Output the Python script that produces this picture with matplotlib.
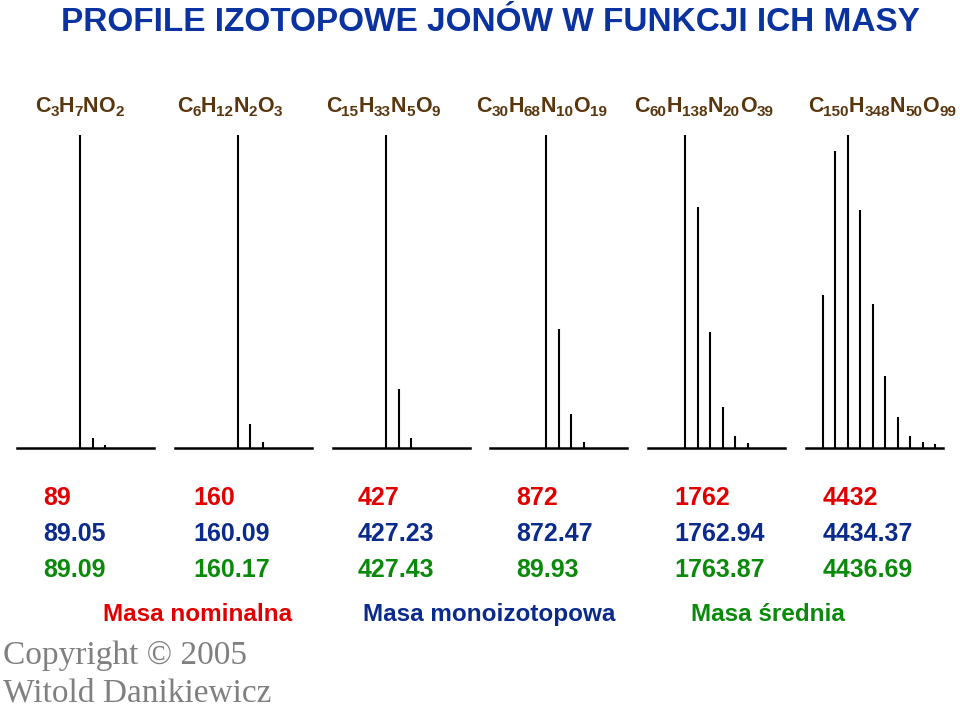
import matplotlib
matplotlib.use("Agg")
import matplotlib.pyplot as plt

plt.rcParams['font.family'] = ['Liberation Sans', 'DejaVu Sans']

# ---- data ----
title = "PROFILE IZOTOPOWE JONÓW W FUNKCJI ICH MASY"
formulas = [
    [("C", "3"), ("H", "7"), ("N", ""), ("O", "2")],
    [("C", "6"), ("H", "12"), ("N", "2"), ("O", "3")],
    [("C", "15"), ("H", "33"), ("N", "5"), ("O", "9")],
    [("C", "30"), ("H", "68"), ("N", "10"), ("O", "19")],
    [("C", "60"), ("H", "138"), ("N", "20"), ("O", "39")],
    [("C", "150"), ("H", "348"), ("N", "50"), ("O", "99")],
]
first_mass = [89, 160, 427, 872, 1762, 4434]
intensities = [
    [100, 3.2, 1.0],
    [100, 7.7, 1.9],
    [100, 19, 3.2],
    [100, 38, 11, 2.0],
    [100, 77, 37, 13, 3.8, 1.6],
    [49, 95, 100, 76, 46, 23, 10, 3.8, 1.9, 1.3],
]
nominal = ["89", "160", "427", "872", "1762", "4432"]
monoiso = ["89.05", "160.09", "427.23", "872.47", "1762.94", "4434.37"]
average = ["89.09", "160.17", "427.43", "89.93", "1763.87", "4436.69"]
legend_labels = ["Masa nominalna", "Masa monoizotopowa", "Masa średnia"]
copyright_lines = ["Copyright © 2005", "Witold Danikiewicz"]

# ---- layout / styles ----
W, H = 960, 705
fig = plt.figure(figsize=(W / 100, H / 100), dpi=100)
fig.patch.set_facecolor('white')

def fx(x):
    return x / W

def fy(y):
    return 1 - y / H

RED = '#e00000'
BLUE = '#0a2a8c'
GREEN = '#0a8a0a'
TITLE_BLUE = '#0a33a0'
BROWN = '#5a360e'

panel_left = [17, 175, 333, 490, 648, 806]
first_offset = [63, 63, 53, 56, 37, 17]   # px from panel left to first peak
panel_w = 137
spacing = 12.5
base_y = 448
top_y = 135

for i in range(6):
    ax = fig.add_axes([fx(panel_left[i]), fy(base_y), panel_w / W, (base_y - top_y) / H])
    x0 = first_mass[i] - first_offset[i] / spacing
    ax.set_xlim(x0, x0 + panel_w / spacing)
    ax.set_ylim(0, 100)
    xs = [first_mass[i] + k for k in range(len(intensities[i]))]
    ax.vlines(xs, 0, intensities[i], color='black', lw=1.5)
    ax.axhline(0, color='black', lw=1.8, clip_on=False)
    ax.axis('off')

fig.text(fx(490), fy(31), title, ha='center', va='baseline', color=TITLE_BLUE,
         fontsize=24, fontweight='bold')

# chemical formulas built from pieces (main letters + subscripts)
renderer = fig.canvas.get_renderer()
form_x = [35, 177, 326, 476, 634, 808]
MAIN_FS, SUB_FS = 15.5, 11
for i, f in enumerate(formulas):
    x = form_x[i]
    for el, cnt in f:
        t = fig.text(fx(x), fy(112), el, ha='left', va='baseline', color=BROWN,
                     fontsize=MAIN_FS, fontweight='bold')
        x += t.get_window_extent(renderer).width
        if cnt:
            t = fig.text(fx(x), fy(116), cnt, ha='left', va='baseline', color=BROWN,
                         fontsize=SUB_FS, fontweight='bold')
            x += t.get_window_extent(renderer).width

col_x = [43, 193, 358, 516, 674, 823]
for vals, col, yb in zip([nominal, monoiso, average], [RED, BLUE, GREEN], [505, 541, 577]):
    for i, v in enumerate(vals):
        fig.text(fx(col_x[i]), fy(yb), v, ha='left', va='baseline', color=col,
                 fontsize=18, fontweight='bold')

leg_x = [103, 363, 691]
for lab, col, x in zip(legend_labels, [RED, BLUE, GREEN], leg_x):
    fig.text(fx(x), fy(621), lab, ha='left', va='baseline', color=col,
             fontsize=17.5, fontweight='bold')

for line, yb in zip(copyright_lines, [664, 702]):
    fig.text(fx(3), fy(yb), line, ha='left', va='baseline', color='#808080',
             fontsize=24, family=['Liberation Serif', 'DejaVu Serif'])

fig.savefig('out.png', dpi=100, facecolor='white')
